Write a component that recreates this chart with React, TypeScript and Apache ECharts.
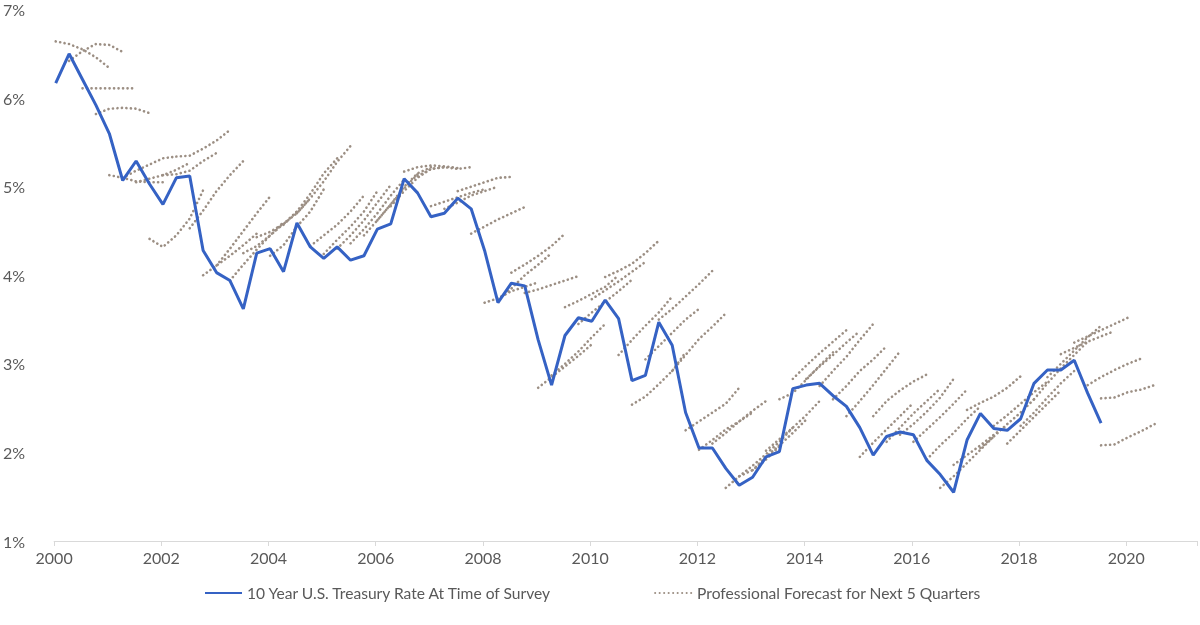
import React, { useEffect, useRef } from "react";
import * as echarts from "echarts";

// Quarterly survey dates start in 2000 Q1
const firstYear = 2000;
const quarterOffset = 0.03;

// 10 Year U.S. Treasury rate at time of survey (quarterly, 2000Q1..2019Q3)
const treasuryRate = [
  6.17, 6.5, 6.21, 5.92, 5.6, 5.07, 5.29, 5.03, 4.8, 5.1, 5.12, 4.28, 4.03, 3.94, 3.62, 4.25,
  4.3, 4.04, 4.59, 4.32, 4.19, 4.32, 4.17, 4.22, 4.52, 4.58, 5.09, 4.93, 4.66, 4.7, 4.87, 4.75,
  4.28, 3.69, 3.91, 3.88, 3.27, 2.76, 3.32, 3.52, 3.48, 3.72, 3.51, 2.81, 2.87, 3.47, 3.21, 2.45,
  2.05, 2.05, 1.82, 1.63, 1.72, 1.95, 2.01, 2.72, 2.76, 2.78, 2.64, 2.52, 2.28, 1.97, 2.18, 2.23,
  2.2, 1.91, 1.75, 1.55, 2.14, 2.44, 2.27, 2.25, 2.38, 2.78, 2.93, 2.93, 3.04, 2.67, 2.33,
];

// Forecast start (quarter index from 2000Q1) for each forecast path
const forecastStart = [
  0, 1, 2, 3, 4, 5, 6, 7, 8, 9, 10, 11, 12, 13, 14, 15, 16, 17, 18, 19, 20, 21, 22, 23, 24, 25,
  26, 27, 28, 29, 30, 31, 32, 33, 34, 35, 36, 37, 38, 39, 40, 41, 42, 43, 44, 45, 46, 47, 48, 49,
  50, 51, 52, 53, 54, 55, 56, 57, 58, 59, 60, 61, 62, 63, 64, 65, 66, 67, 68, 69, 70, 71, 72, 73,
  74, 75, 76, 77, 78, 78,
];

// Forecast paths: five quarterly values each
const forecastPaths = [
  [6.64, 6.61, 6.55, 6.46, 6.34],
  [6.42, 6.53, 6.61, 6.6, 6.52],
  [6.11, 6.11, 6.11, 6.11, 6.11],
  [5.82, 5.88, 5.89, 5.88, 5.83],
  [5.13, 5.1, 5.06, 5.05, 5.05],
  [5.1, 5.18, 5.25, 5.32, 5.34],
  [5.05, 5.09, 5.13, 5.19, 5.27],
  [4.41, 4.32, 4.45, 4.64, 4.96],
  [5.13, 5.14, 5.18, 5.29, 5.38],
  [5.34, 5.35, 5.43, 5.52, 5.64],
  [4.53, 4.73, 4.95, 5.13, 5.29],
  [4.0, 4.11, 4.22, 4.34, 4.47],
  [4.11, 4.3, 4.5, 4.7, 4.89],
  [3.94, 4.12, 4.29, 4.45, 4.6],
  [4.25, 4.33, 4.45, 4.58, 4.72],
  [4.43, 4.49, 4.58, 4.7, 4.87],
  [4.22, 4.34, 4.55, 4.72, 4.97],
  [4.57, 4.72, 4.92, 5.15, 5.32],
  [4.7, 4.87, 5.06, 5.28, 5.46],
  [4.33, 4.45, 4.57, 4.72, 4.9],
  [4.24, 4.4, 4.55, 4.72, 4.95],
  [4.3, 4.45, 4.62, 4.82, 5.02],
  [4.36, 4.52, 4.7, 4.9, 5.08],
  [4.45, 4.62, 4.8, 4.98, 5.14],
  [4.62, 4.8, 5.0, 5.15, 5.22],
  [4.78, 4.95, 5.1, 5.2, 5.22],
  [5.17, 5.22, 5.24, 5.23, 5.21],
  [5.12, 5.2, 5.22, 5.2, 5.22],
  [4.78, 4.83, 4.88, 4.93, 4.97],
  [4.75, 4.82, 4.9, 4.95, 5.0],
  [4.95, 5.0, 5.05, 5.1, 5.11],
  [4.47, 4.55, 4.63, 4.7, 4.77],
  [3.69, 3.74, 3.82, 3.87, 3.92],
  [3.72, 3.85, 4.0, 4.12, 4.25],
  [4.03, 4.12, 4.22, 4.33, 4.47],
  [3.8, 3.84, 3.89, 3.94, 3.99],
  [2.73, 2.85, 2.97, 3.09, 3.22],
  [2.87, 3.0, 3.14, 3.3, 3.45],
  [3.64, 3.71, 3.79, 3.87, 4.0],
  [3.45, 3.58, 3.7, 3.82, 3.95],
  [3.73, 3.83, 3.93, 4.04, 4.15],
  [3.98, 4.05, 4.13, 4.25, 4.39],
  [3.1, 3.27, 3.43, 3.58, 3.76],
  [2.54, 2.63, 2.77, 2.92, 3.13],
  [3.05, 3.2, 3.35, 3.5, 3.62],
  [3.5, 3.62, 3.76, 3.9, 4.05],
  [2.92, 3.1, 3.28, 3.42, 3.57],
  [2.25, 2.35, 2.45, 2.55, 2.73],
  [2.03, 2.14, 2.26, 2.35, 2.45],
  [2.1, 2.22, 2.35, 2.47, 2.58],
  [1.6, 1.73, 1.8, 1.92, 2.07],
  [1.73, 1.85, 1.98, 2.12, 2.28],
  [1.8, 1.95, 2.08, 2.22, 2.37],
  [2.02, 2.15, 2.28, 2.42, 2.58],
  [2.6, 2.67, 2.82, 2.98, 3.13],
  [2.83, 2.98, 3.12, 3.25, 3.38],
  [2.83, 2.97, 3.1, 3.24, 3.37],
  [2.75, 2.92, 3.08, 3.27, 3.45],
  [2.6, 2.75, 2.92, 3.05, 3.2],
  [2.41, 2.58, 2.76, 2.95, 3.14],
  [1.95, 2.11, 2.26, 2.41, 2.56],
  [2.41, 2.58, 2.7, 2.8, 2.88],
  [2.12, 2.28, 2.44, 2.58, 2.72],
  [2.2, 2.32, 2.46, 2.62, 2.83],
  [2.12, 2.26, 2.4, 2.55, 2.71],
  [1.92, 2.08, 2.22, 2.38, 2.52],
  [1.6, 1.73, 1.88, 2.03, 2.18],
  [1.86, 1.97, 2.08, 2.2, 2.31],
  [2.48, 2.56, 2.63, 2.73, 2.86],
  [2.05, 2.18, 2.32, 2.45, 2.6],
  [2.3, 2.42, 2.55, 2.68, 2.8],
  [2.1, 2.25, 2.4, 2.55, 2.7],
  [2.3, 2.45, 2.62, 2.78, 2.92],
  [2.6, 2.78, 2.95, 3.1, 3.25],
  [2.85, 3.0, 3.15, 3.3, 3.43],
  [3.11, 3.18, 3.25, 3.31, 3.37],
  [3.24, 3.31, 3.38, 3.45, 3.52],
  [2.76, 2.85, 2.93, 3.0, 3.06],
  [2.61, 2.62, 2.68, 2.71, 2.76],
  [2.08, 2.09, 2.17, 2.24, 2.32],
];

const yTicks = [1, 2, 3, 4, 5, 6, 7];
const seriesNames = ["10 Year U.S. Treasury Rate At Time of Survey", "Professional Forecast for Next 5 Quarters"];

const qDate = (i: number) => firstYear + i / 4 + quarterOffset;

export default function App() {
  const ref = useRef<HTMLDivElement>(null);
  useEffect(() => {
    if (!ref.current) return;
    const chart = echarts.init(ref.current, null, { renderer: "svg" });
    const font = "Lato, 'Open Sans', sans-serif";
    const dotColor = "#9c8f84";
    const blue = "#3562c4";
    const forecastSeries = forecastPaths.map((vals, k) => ({
      name: seriesNames[1],
      type: "line",
      data: vals.map((v, j) => [qDate(forecastStart[k] + j), v]),
      symbol: "none",
      z: 1,
      lineStyle: { color: dotColor, width: 2.6, type: [0.1, 4.4], cap: "round" },
      itemStyle: { color: dotColor },
      silent: true,
    }));
    chart.setOption({
      animation: false,
      textStyle: { fontFamily: font },
      grid: { left: 52, right: 0, top: 9.5, bottom: 84 },
      legend: {
        left: 199,
        top: 580,
        itemGap: 101,
        itemWidth: 37,
        itemHeight: 10,
        itemStyle: { opacity: 0 },
        textStyle: { color: "#595959", fontSize: 15.6, fontFamily: font },
        data: [{ name: seriesNames[0] }, { name: seriesNames[1] }],
      },
      xAxis: {
        type: "value",
        min: 2000,
        max: 2021.32,
        interval: 2,
        axisLine: { lineStyle: { color: "#d9d9d9", width: 1 } },
        axisTick: { show: true, length: 5, lineStyle: { color: "#d9d9d9" } },
        splitLine: { show: false },
        axisLabel: {
          color: "#595959",
          fontSize: 16,
          margin: 8,
          formatter: (v: number) => (v <= 2020 ? String(v) : ""),
        },
      },
      yAxis: {
        type: "value",
        min: yTicks[0],
        max: yTicks[yTicks.length - 1],
        interval: 1,
        axisLine: { show: false },
        axisTick: { show: false },
        splitLine: { show: false },
        axisLabel: { color: "#595959", fontSize: 16, margin: 29, formatter: "{value}%" },
      },
      series: [
        ...forecastSeries,
        {
          name: seriesNames[0],
          type: "line",
          data: treasuryRate.map((v, i) => [qDate(i), v]),
          symbol: "none",
          z: 3,
          lineStyle: { color: blue, width: 3 },
          itemStyle: { color: blue },
        },
      ],
    });
    return () => chart.dispose();
  }, []);
  return <div ref={ref} style={{ position: "fixed", left: 0, top: 0, width: 1200, height: 625 }} />;
}
